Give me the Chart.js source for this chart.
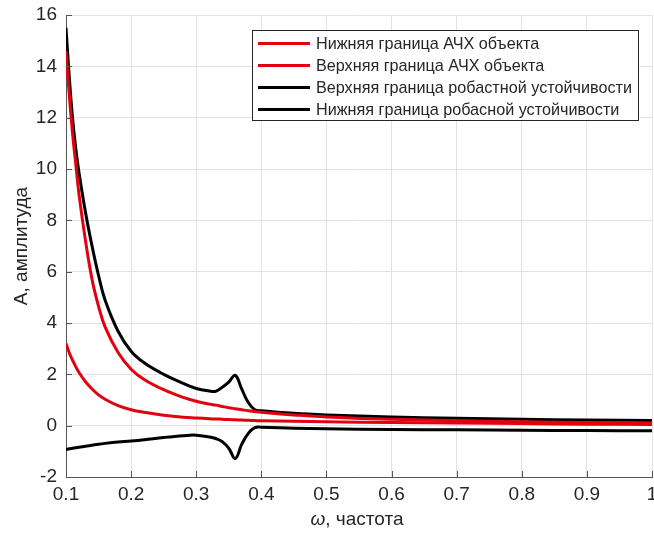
<!DOCTYPE html>
<html>
<head>
<meta charset="utf-8">
<script src="https://cdn.jsdelivr.net/npm/chart.js@4.4.0/dist/chart.umd.min.js"></script>
<style>
  html, body { margin: 0; padding: 0; background: #fff; }
  canvas { display: block; }
</style>
</head>
<body>
<canvas id="myChart" width="654" height="533"></canvas>
<script>
// частоты (ось x)
var omega = [0.1, 0.105, 0.11, 0.115, 0.12, 0.13, 0.14, 0.15, 0.16, 0.18, 0.2, 0.22, 0.25, 0.28, 0.3,
  0.32, 0.33, 0.34, 0.35, 0.36, 0.37, 0.38, 0.39, 0.4, 0.45, 0.5, 0.6, 0.7, 0.8, 0.9, 1.0];

// АЧХ объекта
var objLow = [3.2, 2.84, 2.55, 2.3, 2.07, 1.71, 1.43, 1.2, 1.03, 0.78, 0.62, 0.52, 0.41, 0.33, 0.30,
  0.27, 0.26, 0.25, 0.24, 0.23, 0.22, 0.21, 0.2, 0.19, 0.17, 0.15, 0.12, 0.1, 0.08, 0.06, 0.05];
var objHigh = [14.6, 12.9, 11.4, 10.2, 9.0, 7.2, 5.7, 4.65, 3.85, 2.85, 2.2, 1.8, 1.4, 1.1, 0.95,
  0.84, 0.8, 0.75, 0.7, 0.66, 0.62, 0.58, 0.55, 0.52, 0.42, 0.34, 0.25, 0.19, 0.15, 0.12, 0.1];

// границы робастной устойчивости
var robHigh = [15.5, 13.6, 12.0, 10.8, 9.85, 8.3, 7.0, 5.85, 4.9, 3.68, 2.9, 2.45, 2.0, 1.65, 1.45,
  1.35, 1.34, 1.5, 1.7, 1.96, 1.42, 0.9, 0.62, 0.58, 0.48, 0.42, 0.34, 0.29, 0.25, 0.22, 0.2];
var robLow = [-0.93, -0.9, -0.88, -0.86, -0.84, -0.8, -0.76, -0.72, -0.69, -0.64, -0.6, -0.55, -0.46, -0.39, -0.37,
  -0.44, -0.5, -0.62, -0.88, -1.28, -0.72, -0.3, -0.08, -0.06, -0.1, -0.12, -0.15, -0.16, -0.18, -0.19, -0.2];

var xTicks = [0.1, 0.2, 0.3, 0.4, 0.5, 0.6, 0.7, 0.8, 0.9, 1];
var yTicks = [-2, 0, 2, 4, 6, 8, 10, 12, 14, 16];

var labels = ["Нижняя граница АЧХ объекта", "Верхняя граница АЧХ объекта",
  "Верхняя граница робастной устойчивости", "Нижняя граница робасной устойчивости"];
var colors = ["#e3000f", "#e3000f", "#000000", "#000000"];

function pts(arr) {
  return omega.map(function (x, i) { return { x: x, y: arr[i] }; });
}

var FONT = "'Liberation Sans', Arial, sans-serif";
var TXT = "#262626";

// легенда внутри осей + подписи осей + засечки внутрь
var matlabDecor = {
  id: "matlabDecor",
  afterDraw: function (chart) {
    var ctx = chart.ctx;
    var xs = chart.scales.x, ys = chart.scales.y;
    var a = chart.chartArea;
    ctx.save();
    // засечки
    ctx.strokeStyle = "#555";
    ctx.lineWidth = 1;
    ctx.beginPath();
    yTicks.forEach(function (v) {
      var p = Math.round(ys.getPixelForValue(v)) + 0.5;
      ctx.moveTo(a.left, p); ctx.lineTo(a.left + 6, p);
    });
    xTicks.forEach(function (v) {
      var p = Math.round(xs.getPixelForValue(v)) + 0.5;
      ctx.moveTo(p, a.bottom); ctx.lineTo(p, a.bottom - 6);
    });
    ctx.stroke();

    // подпись оси x: курсивная омега
    ctx.fillStyle = TXT;
    ctx.textBaseline = "middle";
    ctx.textAlign = "left";
    var s1 = "\u03c9", s2 = ", частота";
    ctx.font = "italic 19px " + FONT;
    var w1 = ctx.measureText(s1).width;
    ctx.font = "19px " + FONT;
    var w2 = ctx.measureText(s2).width;
    var cx = (a.left + a.right) / 2 - 2;
    var x0 = cx - (w1 + w2) / 2;
    ctx.font = "italic 19px " + FONT;
    ctx.fillText(s1, x0, 520);
    ctx.font = "19px " + FONT;
    ctx.fillText(s2, x0 + w1, 520);

    // подпись оси y
    ctx.save();
    ctx.translate(22, (a.top + a.bottom) / 2);
    ctx.rotate(-Math.PI / 2);
    ctx.textAlign = "center";
    ctx.fillText("А, амплитуда", 0, 0);
    ctx.restore();

    // легенда
    var bx = 252.5, by = 30.5, bw = 386, bh = 90;
    ctx.fillStyle = "#fff";
    ctx.fillRect(bx, by, bw, bh);
    ctx.strokeStyle = "#262626";
    ctx.lineWidth = 1;
    ctx.strokeRect(bx, by, bw, bh);
    ctx.font = "16.2px " + FONT;
    ctx.textAlign = "left";
    ctx.textBaseline = "middle";
    chart.data.datasets.forEach(function (ds, i) {
      var ry = 43.5 + i * 22;
      ctx.strokeStyle = ds.borderColor;
      ctx.lineWidth = 3;
      ctx.beginPath();
      ctx.moveTo(258, ry); ctx.lineTo(310, ry);
      ctx.stroke();
      ctx.fillStyle = TXT;
      ctx.fillText(ds.label, 316, ry + 1);
    });
    ctx.restore();
  }
};

var ctx = document.getElementById("myChart");
var myChart = new Chart(ctx, {
  type: "line",
  data: {
    datasets: [objLow, objHigh, robHigh, robLow].map(function (arr, i) {
      return {
        label: labels[i],
        data: pts(arr),
        borderColor: colors[i],
        backgroundColor: colors[i],
        borderWidth: 3,
        pointRadius: 0,
        fill: false,
        tension: 0.4
      };
    })
  },
  options: {
    responsive: false,
    animation: false,
    devicePixelRatio: 1,
    layout: { padding: { top: 15, right: 2, left: 0, bottom: 0 } },
    plugins: {
      legend: { display: false },
      tooltip: { enabled: false }
    },
    scales: {
      x: {
        type: "linear",
        min: 0.1,
        max: 1,
        afterBuildTicks: function (s) { s.ticks = xTicks.map(function (v) { return { value: v }; }); },
        afterFit: function (s) { s.height = 56; s.paddingLeft = 0; s.paddingRight = 0; },
        grid: { color: "#e2e2e2", drawTicks: false },
        border: { color: "#555", width: 1 },
        ticks: {
          color: TXT,
          font: { family: FONT, size: 19 },
          padding: 6,
          maxRotation: 0,
          autoSkip: false,
          callback: function (v) { return String(v); }
        }
      },
      y: {
        min: -2,
        max: 16,
        afterBuildTicks: function (s) { s.ticks = yTicks.map(function (v) { return { value: v }; }); },
        afterFit: function (s) { s.width = 66; s.paddingTop = 0; s.paddingBottom = 0; },
        grid: { color: "#e2e2e2", drawTicks: false },
        border: { color: "#555", width: 1 },
        ticks: {
          color: TXT,
          font: { family: FONT, size: 19 },
          padding: 9,
          autoSkip: false,
          callback: function (v) { return String(v); }
        }
      }
    }
  },
  plugins: [matlabDecor]
});
</script>
</body>
</html>
